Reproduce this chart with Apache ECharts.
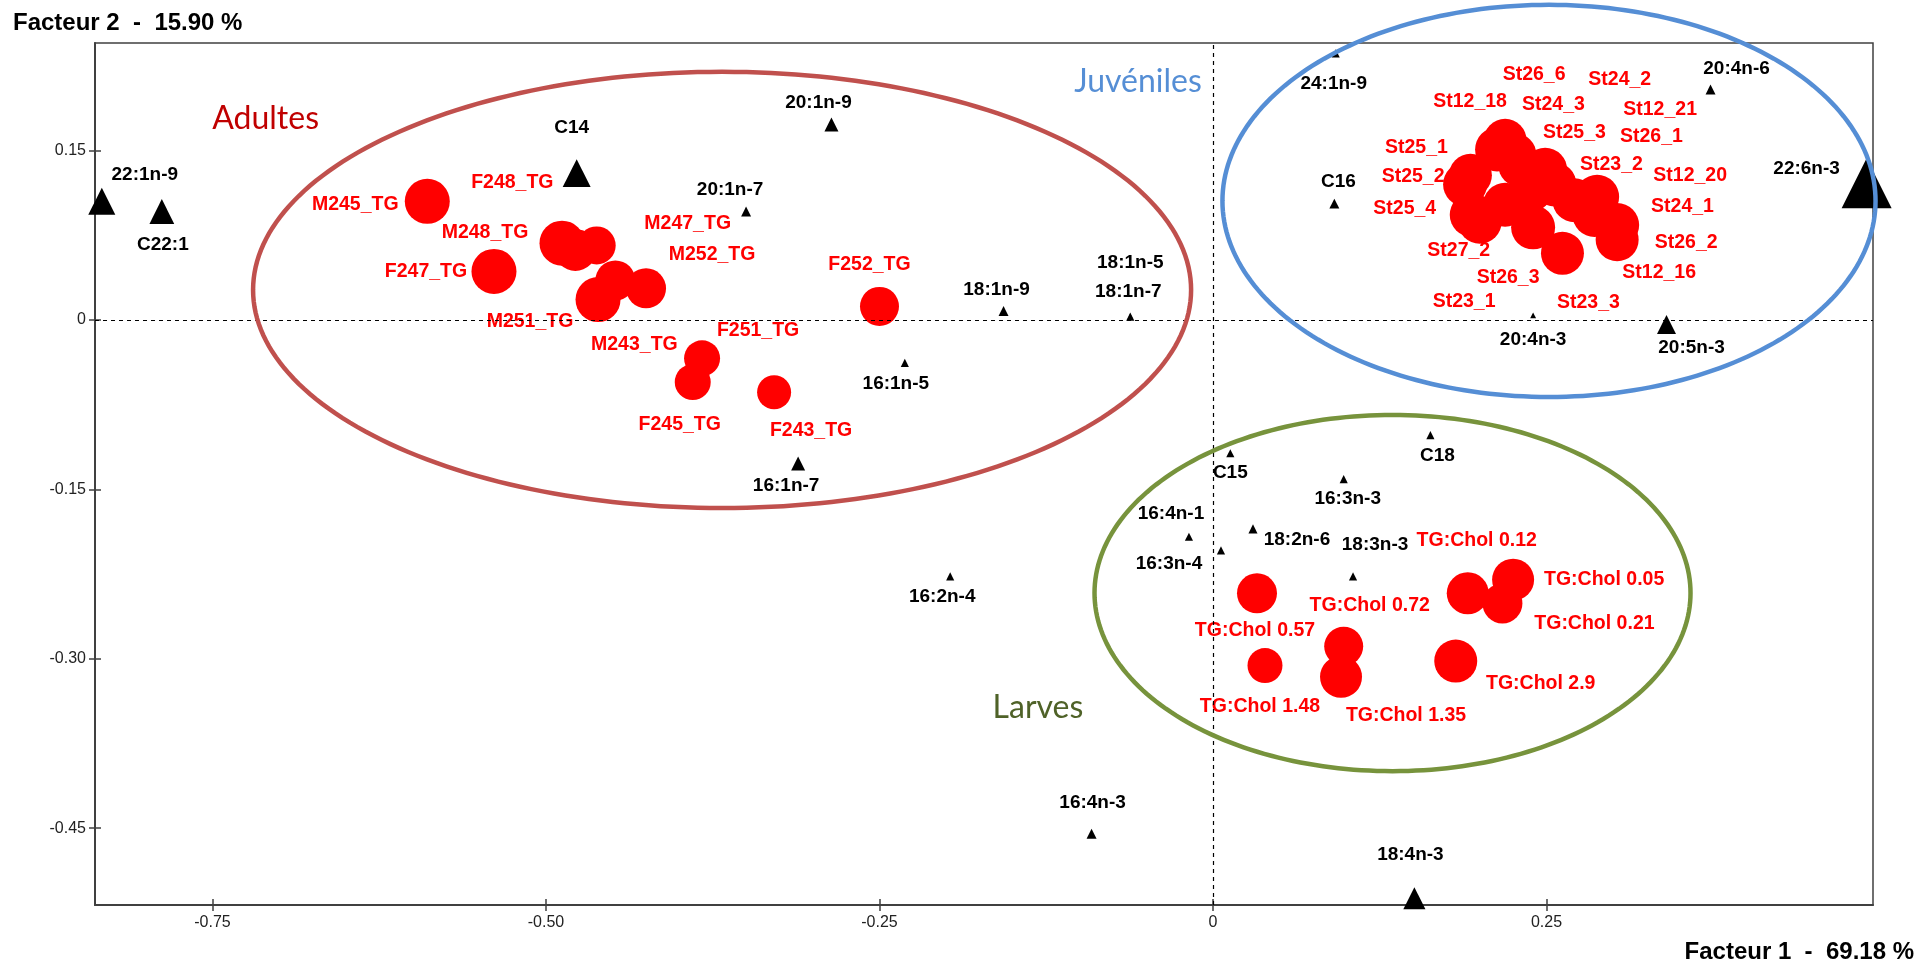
<!DOCTYPE html>
<html>
<head>
<meta charset="utf-8">
<script src="https://cdn.jsdelivr.net/npm/echarts@6/dist/echarts.min.js"></script>
<style>
html,body{margin:0;padding:0;background:#fff;}
#chart{width:1919px;height:966px;}
</style>
</head>
<body>
<div id="chart"></div>
<script>
// ---------------- DATA ----------------
// Variables (fatty acids) : coordinates on factor 1 / factor 2, quality of representation
const varNames = ['22:1n-9','C22:1','C14','20:1n-9','20:1n-7','18:1n-9','18:1n-7','18:1n-5','16:1n-5','16:1n-7',
  '16:2n-4','16:4n-3','18:4n-3','C15','C18','16:3n-3','16:4n-1','16:3n-4','18:2n-6','18:3n-3',
  'C16','24:1n-9','20:4n-6','22:6n-3','20:4n-3','20:5n-3'];
const varF1 = [-0.833,-0.788,-0.477,-0.286,-0.350,-0.157,-0.062,-0.062,-0.231,-0.311,
  -0.197,-0.091,0.151,0.013,0.163,0.098,-0.018,0.006,0.030,0.105,
  0.091,0.092,0.373,0.490,0.240,0.340];
const varF2 = [0.105,0.096,0.130,0.173,0.096,0.008,0.003,0.003,-0.038,-0.127,
  -0.227,-0.455,-0.512,-0.118,-0.102,-0.141,-0.192,-0.204,-0.185,-0.227,
  0.103,0.236,0.204,0.121,0.004,-0.004];
const varQuality = [0.49,0.44,0.51,0.20,0.11,0.11,0.07,0.02,0.07,0.20,
  0.07,0.11,0.38,0.07,0.07,0.07,0.07,0.07,0.09,0.07,
  0.11,0.07,0.11,1.00,0.02,0.31];

// Observations (samples)
const obsNames = ['M245_TG','F248_TG','M248_TG','F247_TG','M247_TG','M252_TG','M251_TG','M243_TG','F251_TG','F245_TG','F243_TG','F252_TG',
  'St12_18','St26_6','St24_3','St25_3','St25_1','St25_2','St25_4','St27_2','St23_1','St26_3','St23_3','St12_16','St26_2','St24_1','St12_20','St23_2','St26_1','St12_21','St24_2',
  'TG:Chol 0.57','TG:Chol 1.48','TG:Chol 0.72','TG:Chol 1.35','TG:Chol 2.9','TG:Chol 0.12','TG:Chol 0.05','TG:Chol 0.21'];
const obsF1 = [-0.589,-0.478,-0.488,-0.539,-0.462,-0.425,-0.461,-0.448,-0.383,-0.390,-0.329,-0.250,
  0.213,0.219,0.226,0.238,0.193,0.189,0.194,0.200,0.219,0.240,0.262,0.303,0.303,0.286,0.288,0.271,0.256,0.249,0.230,
  0.033,0.039,0.098,0.096,0.182,0.191,0.225,0.217];
const obsF2 = [0.105,0.062,0.068,0.043,0.066,0.028,0.018,0.035,-0.034,-0.055,-0.064,0.012,
  0.151,0.159,0.146,0.115,0.128,0.120,0.093,0.087,0.102,0.082,0.059,0.071,0.084,0.093,0.109,0.106,0.120,0.133,0.137,
  -0.242,-0.306,-0.289,-0.316,-0.302,-0.242,-0.230,-0.251];
const obsQuality = [0.75,0.60,0.75,0.75,0.40,0.50,0.75,0.50,0.30,0.30,0.20,0.45,
  0.70,0.65,0.70,0.70,0.65,0.70,0.70,0.70,0.70,0.70,0.65,0.65,0.70,0.70,0.70,0.70,0.70,0.70,0.65,
  0.50,0.25,0.45,0.60,0.65,0.60,0.60,0.50];

// Groups
const groupNames = ['Adultes','Juvéniles','Larves'];

// Axes ticks
const xTickValues = [-0.75,-0.5,-0.25,0,0.25];
const xTickLabels = ['-0.75','-0.50','-0.25','0','0.25'];
const yTickValues = [0.15,0,-0.15,-0.30,-0.45];
const yTickLabels = ['0.15','0','-0.15','-0.30','-0.45'];

// ---------------- LAYOUT / STYLE ----------------
const varLabelOffsets = [[43,-27],[1,33],[-5,-45],[-13,-22],[-16,-22],[-7,-21],[-2,-25],[0,-54],[-9,21],[-12,22],
  [-8,20],[1,-31],[-4,-43],[0,20],[7,21],[4,20],[-18,-23],[-52,13],[44,11],[22,-32],
  [4,-22],[-2,30],[26,-21],[-60,-15],[0,24],[25,23]];
const obsLabelOffsets = [[-72,3],[-63,-67],[-77,-11],[-68,0],[91,-22],[66,-34],[-68,22],[19,64],[56,-28],[-13,43],[37,38],[-10,-42],
  [-27,-48],[29,-66],[39,-50],[44,-57],[-54,-28],[-52,-8],[-67,-6],[-21,29],[-41,97],[-25,50],[26,49],[42,33],[69,18],[88,-8],[93,-21],[37,-36],[97,-48],[115,-60],[100,-86],
  [-2,37],[-5,41],[26,-41],[65,39],[85,23],[9,-53],[91,0],[92,20]];
// group ellipse annotations (data units) and group label anchors
const ellipseCenter = [[-0.368,0.0266],[0.2519,0.1054],[0.1346,-0.2418]];
const ellipseRadius = [[0.3516,0.1931],[0.2448,0.1736],[0.2234,0.1577]];
const groupLabelAnchor = [[-0.7102,0.1783],[-0.0562,0.2108],[-0.1312,-0.3430]];
const ellipseColors = ['#C0504D','#558ED5','#77933C'];
const groupTextColors = ['#C00000','#558ED5','#4F6228'];

const FONT = "'Liberation Sans', Arial, sans-serif";
const X_MIN = -0.8381, X_MAX = 0.4948, Y_MIN = -0.518, Y_MAX = 0.2452;

function tickFmt(values, labels){
  return function(v){
    for (let i=0;i<values.length;i++) if (Math.abs(values[i]-v) < 1e-9) return labels[i];
    return '';
  };
}

const varData = varNames.map((n,i)=>{
  const s = 5 + 45*varQuality[i];
  return {name:n, value:[varF1[i], varF2[i]], symbolSize:[s, s],
    label:{offset:varLabelOffsets[i]}};
});
const obsData = obsNames.map((n,i)=>{
  const s = 30 + 20*obsQuality[i];
  return {name:n, value:[obsF1[i], obsF2[i]], symbolSize:s,
    label:{offset:obsLabelOffsets[i]}};
});

const chart = echarts.init(document.getElementById('chart'), null, {renderer:'canvas'});

const baseX = {type:'value', min:X_MIN, max:X_MAX, gridIndex:0, splitLine:{show:false}};
const baseY = {type:'value', min:Y_MIN, max:Y_MAX, gridIndex:0, splitLine:{show:false}};

const option = {
  animation:false,
  backgroundColor:'#fff',
  title:[
    {text:'Facteur 2  -  15.90 %', left:13, top:11, padding:0,
     textStyle:{fontFamily:FONT, fontWeight:'bold', fontSize:24, color:'#000'}},
    {text:'Facteur 1  -  69.18 %', right:5, top:940, padding:0,
     textStyle:{fontFamily:FONT, fontWeight:'bold', fontSize:24, color:'#000'}}
  ],
  grid:{left:95, right:46, top:43, bottom:61, show:true, borderColor:'#404040', borderWidth:1.5, backgroundColor:'transparent'},
  xAxis:[
    Object.assign({}, baseX, {
      position:'bottom',
      axisLine:{show:true, onZero:false, lineStyle:{color:'#404040', width:2}},
      axisTick:{show:true, length:6, customValues:xTickValues, lineStyle:{color:'#404040', width:1.5}},
      axisLabel:{show:true, customValues:xTickValues, formatter:tickFmt(xTickValues,xTickLabels), margin:10,
        fontFamily:FONT, fontSize:16, color:'#222'}
    }),
    Object.assign({}, baseX, {
      position:'bottom',
      axisLine:{show:false, onZero:false},
      axisTick:{show:true, inside:true, length:6, customValues:xTickValues, lineStyle:{color:'#404040', width:1.5}},
      axisLabel:{show:false}
    })
  ],
  yAxis:[
    Object.assign({}, baseY, {
      position:'left',
      axisLine:{show:true, onZero:false, lineStyle:{color:'#404040', width:2}},
      axisTick:{show:true, length:6, customValues:yTickValues, lineStyle:{color:'#404040', width:1.5}},
      axisLabel:{show:true, customValues:yTickValues, formatter:tickFmt(yTickValues,yTickLabels), margin:9,
        fontFamily:FONT, fontSize:16, color:'#222'}
    }),
    Object.assign({}, baseY, {
      position:'left',
      axisLine:{show:false, onZero:false},
      axisTick:{show:true, inside:true, length:6, customValues:yTickValues, lineStyle:{color:'#404040', width:1.5}},
      axisLabel:{show:false}
    })
  ],
  series:[
    {
      name:'axes0', type:'scatter', xAxisIndex:0, yAxisIndex:0, data:[], silent:true,
      markLine:{
        silent:true, symbol:['none','none'], animation:false,
        label:{show:false},
        lineStyle:{color:'#000', width:1.2, type:[4,4]},
        data:[{xAxis:0},{yAxis:0}]
      }
    },
    {
      name:'Observations', type:'scatter', xAxisIndex:0, yAxisIndex:0, z:3,
      symbol:'circle', clip:false,
      itemStyle:{color:'#FF0000', opacity:1},
      label:{show:true, position:'inside', formatter:'{b}', color:'#FF0000',
        fontFamily:FONT, fontWeight:'bold', fontSize:19.5},
      emphasis:{disabled:true},
      data:obsData
    },
    {
      name:'Variables', type:'scatter', xAxisIndex:0, yAxisIndex:0, z:4,
      symbol:'triangle', clip:false,
      itemStyle:{color:'#000', opacity:1},
      label:{show:true, position:'inside', formatter:'{b}', color:'#000',
        fontFamily:FONT, fontWeight:'bold', fontSize:19},
      emphasis:{disabled:true},
      data:varData
    },
    {
      name:'Groupes', type:'custom', xAxisIndex:0, yAxisIndex:0, z:6, silent:true, clip:false,
      data:groupNames.map((g,i)=>[i]),
      encode:{x:-1, y:-1},
      renderItem:function(params, api){
        const i = params.dataIndex;
        const c = ellipseCenter[i], r = ellipseRadius[i];
        const pts = [];
        for (let k=0;k<=240;k++){
          const t = k/240*2*Math.PI;
          pts.push(api.coord([c[0] + r[0]*Math.cos(t), c[1] + r[1]*Math.sin(t)]));
        }
        const lp = api.coord(groupLabelAnchor[i]);
        return {type:'group', children:[
          {type:'polygon', shape:{points:pts}, style:{fill:'none', stroke:ellipseColors[i], lineWidth:4.5}},
          {type:'text', x:lp[0], y:lp[1], style:{text:groupNames[i], fill:groupTextColors[i],
            font:"32px Lato, 'Open Sans', sans-serif", textAlign:'center', textVerticalAlign:'middle'}}
        ]};
      }
    }
  ]
};
chart.setOption(option);
</script>
</body>
</html>
